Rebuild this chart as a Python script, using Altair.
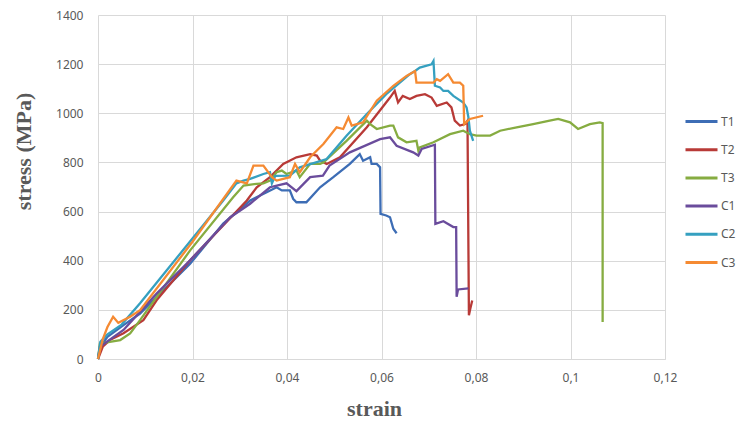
import altair as alt
import pandas as pd

names = ["T1", "T2", "T3", "C1", "C2", "C3"]
colors = ["#3D6DB5", "#B83A37", "#86AC41", "#6A4C9C", "#35A0C0", "#F58A32"]

t1_x = [0, 0.0005, 0.002, 0.0054, 0.0089, 0.0195, 0.0265, 0.0322, 0.0357, 0.0378, 0.0389, 0.0406, 0.0413, 0.042,
        0.0441, 0.047, 0.0498, 0.0533, 0.0554, 0.0561, 0.0576, 0.0579, 0.059, 0.0597, 0.0598, 0.061, 0.0618, 0.0625, 0.0632]
t1_y = [0, 50, 90, 138, 185, 388, 551, 645, 679, 699, 686, 686, 652, 638,
        638, 699, 740, 794, 834, 807, 821, 794, 794, 780, 591, 584, 577, 530, 512]

t2_x = [0, 0.001, 0.0025, 0.0054, 0.0096, 0.0124, 0.0195, 0.0315, 0.0336, 0.0364, 0.0392, 0.042, 0.0449, 0.0463,
        0.047, 0.0484, 0.0512, 0.0569, 0.0618, 0.0628, 0.0635, 0.0645, 0.066, 0.0674, 0.0692, 0.0706, 0.0717,
        0.0738, 0.0748, 0.0755, 0.0766, 0.0777, 0.0782, 0.0785, 0.0788, 0.0792]
t2_y = [0, 50, 77, 105, 158, 239, 402, 645, 699, 740, 794, 821, 834, 828,
        807, 794, 821, 943, 1064, 1091, 1044, 1071, 1058, 1071, 1078, 1064, 1030,
        1044, 1024, 970, 950, 956, 970, 178, 205, 238]

t3_x = [0, 0.0004, 0.0025, 0.0047, 0.0068, 0.0089, 0.0195, 0.0286, 0.0308, 0.0336, 0.035, 0.0364, 0.0378, 0.0389,
        0.0399, 0.042, 0.0427, 0.0449, 0.047, 0.0477, 0.0526, 0.0569, 0.0576, 0.059, 0.0618, 0.0625, 0.0635, 0.0653,
        0.0674, 0.0678, 0.0681, 0.071, 0.0745, 0.0773, 0.0787, 0.0801, 0.083, 0.0851, 0.0886, 0.0921, 0.0956, 0.0974,
        0.0999, 0.1016, 0.1041, 0.1062, 0.1068, 0.1068]
t3_y = [0, 63, 70, 77, 104, 158, 442, 658, 706, 713, 715, 726, 760, 767,
        753, 767, 740, 794, 794, 800, 888, 970, 956, 936, 950, 950, 902, 882,
        888, 848, 861, 882, 915, 929, 915, 909, 909, 929, 943, 956, 970, 977,
        963, 936, 956, 963, 960, 151]

c1_x = [0, 0.0004, 0.0054, 0.0124, 0.0195, 0.028, 0.0322, 0.0364, 0.0399, 0.042, 0.0449, 0.0476, 0.049, 0.0533,
        0.0597, 0.0618, 0.0632, 0.0667, 0.0678, 0.0685, 0.0713, 0.0714, 0.0731, 0.0752, 0.0758, 0.0759, 0.0762, 0.0784]
c1_y = [0, 50, 118, 266, 402, 577, 632, 699, 715, 683, 740, 746, 787, 841,
        895, 902, 868, 841, 828, 855, 872, 550, 561, 537, 537, 253, 283, 287]

c2_x = [0, 0.0005, 0.002, 0.005, 0.0089, 0.0265, 0.0293, 0.0308, 0.0322, 0.035, 0.0364, 0.0368, 0.0375, 0.0406,
        0.0427, 0.0484, 0.0526, 0.0569, 0.061, 0.066, 0.0671, 0.0681, 0.0706, 0.071, 0.0713, 0.0724, 0.0731, 0.0741,
        0.0752, 0.0773, 0.078, 0.0784, 0.0787, 0.0794]
c2_y = [0, 70, 100, 140, 227, 645, 715, 726, 733, 753, 760, 715, 745, 746,
        780, 814, 909, 997, 1078, 1159, 1172, 1186, 1199, 1213, 1112, 1105, 1091, 1091,
        1071, 1044, 1024, 983, 929, 888]

c3_x = [0, 0.001, 0.002, 0.0032, 0.0043, 0.0068, 0.0089, 0.02, 0.0293, 0.0315, 0.0329, 0.035, 0.0368, 0.0378,
        0.0406, 0.0417, 0.0427, 0.0449, 0.0477, 0.0505, 0.0519, 0.053, 0.0537, 0.0561, 0.059, 0.0625, 0.0653, 0.0671,
        0.0674, 0.071, 0.0717, 0.0724, 0.0741, 0.0752, 0.0766, 0.0773, 0.0775, 0.0787, 0.0815]
c3_y = [0, 80, 130, 172, 147, 172, 199, 477, 726, 715, 787, 787, 740, 726,
        740, 794, 760, 821, 875, 943, 936, 983, 950, 963, 1051, 1112, 1152, 1172,
        1125, 1125, 1139, 1132, 1159, 1125, 1125, 1112, 956, 977, 990]

x_ticks = [0, 0.02, 0.04, 0.06, 0.08, 0.1, 0.12]
y_ticks = [0, 200, 400, 600, 800, 1000, 1200, 1400]

series = [(t1_x, t1_y), (t2_x, t2_y), (t3_x, t3_y), (c1_x, c1_y), (c2_x, c2_y), (c3_x, c3_y)]
rows = []
for name, (xs, ys) in zip(names, series):
    for i, (xv, yv) in enumerate(zip(xs, ys)):
        rows.append({"series": name, "strain": xv, "stress": yv, "idx": i})
df = pd.DataFrame(rows)

grid_color = "#d9d9d9"
label_color = "#595959"

chart = alt.Chart(df).mark_line(strokeWidth=2.3).encode(
    x=alt.X("strain:Q",
            scale=alt.Scale(domain=[0, 0.12], nice=False),
            axis=alt.Axis(values=x_ticks, title="strain",
                          labelExpr="replace(format(datum.value, '~g'), '.', ',')",
                          labelFlush=False,
                          grid=True, gridColor=grid_color, gridWidth=1,
                          domainColor=grid_color, ticks=False,
                          labelFont="Noto Sans", labelFontSize=12, labelColor=label_color,
                          labelPadding=13,
                          titleFont="Liberation Serif", titleFontSize=22, titleFontWeight="bold",
                          titleColor=label_color, titleX=276, titleY=56,
                          titleBaseline="alphabetic", titleAlign="center")),
    y=alt.Y("stress:Q",
            scale=alt.Scale(domain=[0, 1400], nice=False),
            axis=alt.Axis(values=y_ticks, title="stress (MPa)", format="d",
                          grid=True, gridColor=grid_color, gridWidth=1,
                          domain=False, ticks=False,
                          labelFont="Noto Sans", labelFontSize=12, labelColor=label_color,
                          labelPadding=15,
                          titleFont="Liberation Serif", titleFontSize=22, titleFontWeight="bold",
                          titleColor=label_color, titleX=-68, titleY=136, titleAngle=270,
                          titleBaseline="alphabetic", titleAlign="center")),
    color=alt.Color("series:N",
                    scale=alt.Scale(domain=names, range=colors),
                    legend=alt.Legend(title=None, orient="none", legendX=586, legendY=89,
                                      symbolType="stroke", symbolSize=1024, symbolStrokeWidth=3,
                                      rowPadding=4.2, padding=0, labelOffset=2,
                                      labelFont="Noto Sans", labelFontSize=12,
                                      labelColor=label_color)),
    order=alt.Order("idx:Q"),
).properties(
    width=567, height=344,
    padding={"left": 90, "top": 7, "right": 71, "bottom": 62},
    autosize="none",
).configure_view(stroke=None)

chart.save("out.html", embed_options={"renderer": "svg", "actions": False})
